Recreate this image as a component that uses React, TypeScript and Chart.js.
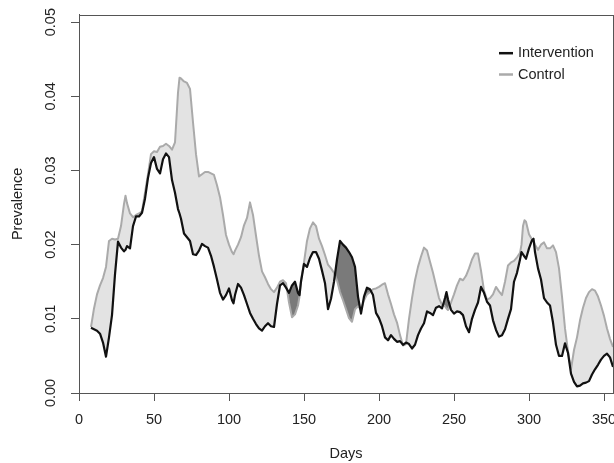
import React, { useEffect, useRef } from "react";
import { Chart, registerables } from "chart.js";

Chart.register(...registerables);

const days = [
  8, 10, 12, 14, 16, 18, 20, 22, 24, 26,
  28, 30, 31, 32, 34, 36, 38, 40, 42, 44,
  46, 48, 50, 52, 54, 56, 58, 60, 62, 64,
  66, 67, 68, 70, 72, 74, 76, 78, 80, 82,
  84, 86, 88, 90, 92, 94, 96, 98, 100, 102,
  103, 104, 106, 108, 110, 112, 114, 116, 118, 120,
  122, 124, 126, 128, 130, 132, 134, 136, 138, 140,
  142, 144, 146, 147, 148, 150, 152, 154, 156, 158,
  160, 162, 164, 166, 168, 170, 172, 174, 176, 178,
  180, 182, 184, 186, 188, 190, 192, 194, 196, 198,
  200, 202, 204, 206, 208, 210, 212, 214, 216, 218,
  220, 222, 224, 226, 228, 230, 232, 234, 236, 238,
  240, 242, 244, 245, 246, 248, 250, 252, 254, 256,
  258, 260, 262, 264, 266, 268, 270, 272, 274, 276,
  278, 280, 282, 284, 286, 288, 290, 292, 294, 295,
  296, 297, 298, 300, 302, 303, 304, 306, 308, 310,
  312, 314, 316, 318, 320, 322, 324, 326, 328, 330,
  332, 334, 336, 338, 340, 342, 344, 346, 348, 350,
  352, 354, 356, 358,
];

const intervention = [
  0.0088, 0.0086, 0.0084, 0.0080, 0.0068, 0.0049, 0.0075, 0.0105, 0.0160, 0.0204,
  0.0196, 0.0191, 0.0193, 0.0198, 0.0195, 0.0225, 0.0238, 0.0238, 0.0243, 0.0262,
  0.0290, 0.0310, 0.0318, 0.0302, 0.0296, 0.0315, 0.0323, 0.0318, 0.0287, 0.0270,
  0.0248, 0.0242, 0.0235, 0.0215, 0.0210, 0.0205, 0.0187, 0.0186, 0.0192, 0.0201,
  0.0198, 0.0196, 0.0185, 0.0170, 0.0153, 0.0135, 0.0126, 0.0132, 0.0141, 0.0125,
  0.0121, 0.0132, 0.0147, 0.0142, 0.0132, 0.0120, 0.0108, 0.0100, 0.0093, 0.0087,
  0.0084, 0.0090, 0.0094, 0.0090, 0.0089, 0.0120, 0.0145, 0.0148, 0.0142, 0.0135,
  0.0145, 0.0150, 0.0135, 0.0132, 0.0150, 0.0174, 0.0170, 0.0182, 0.0190, 0.0190,
  0.0181, 0.0165, 0.0148, 0.0113, 0.0127, 0.0150, 0.0180, 0.0205, 0.0200, 0.0196,
  0.0190, 0.0183, 0.0170, 0.0130, 0.0107, 0.0130, 0.0142, 0.0140, 0.0132, 0.0108,
  0.0101, 0.0090, 0.0075, 0.0071, 0.0078, 0.0073, 0.0069, 0.0070, 0.0065, 0.0068,
  0.0066, 0.0060, 0.0065, 0.0078, 0.0087, 0.0094, 0.0110, 0.0108, 0.0105, 0.0115,
  0.0117, 0.0114, 0.0128, 0.0136, 0.0126, 0.0112, 0.0107, 0.0110, 0.0109, 0.0105,
  0.0090, 0.0082, 0.0100, 0.0112, 0.0122, 0.0143, 0.0135, 0.0123, 0.0118, 0.0098,
  0.0085, 0.0076, 0.0078, 0.0086, 0.0100, 0.0113, 0.0150, 0.0162, 0.0180, 0.0190,
  0.0187, 0.0184, 0.0181, 0.0195, 0.0206, 0.0208, 0.0190, 0.0168, 0.0153, 0.0128,
  0.0122, 0.0118, 0.0095, 0.0065, 0.0050, 0.0050, 0.0067, 0.0054, 0.0026, 0.0015,
  0.0009, 0.0010, 0.0013, 0.0014, 0.0016, 0.0025, 0.0032, 0.0038, 0.0045, 0.0050,
  0.0053, 0.0048, 0.0035, 0.0030,
];

const control = [
  0.0089, 0.0114, 0.0133, 0.0145, 0.0155, 0.0170, 0.0205, 0.0208, 0.0207, 0.0208,
  0.0225, 0.0255, 0.0266, 0.0256, 0.0242, 0.0237, 0.0240, 0.0242, 0.0245, 0.0270,
  0.0295, 0.0322, 0.0326, 0.0325, 0.0332, 0.0333, 0.0336, 0.0333, 0.0328, 0.0338,
  0.0405, 0.0425, 0.0424, 0.0420, 0.0418, 0.0410, 0.0365, 0.0322, 0.0292, 0.0295,
  0.0298, 0.0298, 0.0296, 0.0294, 0.0280, 0.0264, 0.0240, 0.0213, 0.0200, 0.0190,
  0.0187, 0.0192, 0.0200, 0.0210, 0.0226, 0.0236, 0.0257, 0.0240, 0.0212, 0.0185,
  0.0164, 0.0156, 0.0147, 0.0140, 0.0136, 0.0142, 0.0150, 0.0152, 0.0148, 0.0122,
  0.0102, 0.0106, 0.0118, 0.0130, 0.0152, 0.0176, 0.0205, 0.0222, 0.0230, 0.0225,
  0.0208, 0.0198, 0.0186, 0.0173, 0.0168, 0.0162, 0.0152, 0.0136, 0.0125, 0.0113,
  0.0101, 0.0096, 0.0113, 0.0117, 0.0112, 0.0125, 0.0133, 0.0136, 0.0140, 0.0141,
  0.0143, 0.0146, 0.0148, 0.0133, 0.0120, 0.0106, 0.0095, 0.0078, 0.0064, 0.0066,
  0.0100, 0.0128, 0.0152, 0.0170, 0.0184, 0.0196, 0.0192, 0.0177, 0.0162, 0.0145,
  0.0128, 0.0119, 0.0117, 0.0114, 0.0112, 0.0122, 0.0133, 0.0145, 0.0154, 0.0152,
  0.0158, 0.0168, 0.0180, 0.0188, 0.0188, 0.0165, 0.0138, 0.0126, 0.0128, 0.0133,
  0.0143, 0.0137, 0.0132, 0.0150, 0.0172, 0.0176, 0.0178, 0.0183, 0.0189, 0.0200,
  0.0225, 0.0233, 0.0231, 0.0214, 0.0207, 0.0205, 0.0200, 0.0193, 0.0200, 0.0203,
  0.0195, 0.0195, 0.0199, 0.0190, 0.0168, 0.0130, 0.0087, 0.0056, 0.0032, 0.0058,
  0.0075, 0.0098, 0.0115, 0.0128, 0.0136, 0.0140, 0.0138, 0.0130, 0.0118, 0.0104,
  0.0087, 0.0073, 0.0062, 0.0055,
];

const seriesLabels = ["Intervention", "Control"];
const xTicks = [0, 50, 100, 150, 200, 250, 300, 350];
const yTicks = [0, 0.01, 0.02, 0.03, 0.04, 0.05];

const FONT_FAMILY = "'Liberation Sans', Arial, Helvetica, sans-serif";
const TEXT = "#222222";
const AXIS = "#555555";

export default function App() {
  const ref = useRef<HTMLCanvasElement>(null);

  useEffect(() => {
    const canvas = ref.current;
    if (!canvas) return;
    const font = { family: FONT_FAMILY, size: 14.5 };

    const framePlugin = {
      id: "frame",
      afterDraw(chart: any) {
        const { ctx, chartArea: a } = chart;
        ctx.save();
        ctx.strokeStyle = AXIS;
        ctx.lineWidth = 1;
        ctx.strokeRect(Math.round(a.left) + 0.5, Math.round(a.top) + 0.5, Math.round(a.right - a.left), Math.round(a.bottom - a.top));
        ctx.restore();
      },
    };

    const legendPlugin = {
      id: "insetLegend",
      afterDraw(chart: any) {
        const { ctx, chartArea: a } = chart;
        const x0 = a.right - 114;
        let y = a.top + 38.5;
        ctx.save();
        chart.data.datasets.forEach((ds: any) => {
          ctx.strokeStyle = ds.borderColor;
          ctx.lineWidth = 2.5;
          ctx.beginPath();
          ctx.moveTo(x0, y);
          ctx.lineTo(x0 + 14, y);
          ctx.stroke();
          ctx.fillStyle = TEXT;
          ctx.font = `14.5px ${FONT_FAMILY}`;
          ctx.textBaseline = "middle";
          ctx.textAlign = "left";
          ctx.fillText(ds.label, x0 + 19, y);
          y += 21.3;
        });
        ctx.restore();
      },
    };

    const chart = new Chart(canvas, {
      type: "line",
      data: {
        datasets: [
          {
            label: seriesLabels[0],
            data: days.map((d, i) => ({ x: d, y: intervention[i] })),
            borderColor: "#111111",
            borderWidth: 2.2,
            pointRadius: 0,
            tension: 0,
            fill: false,
            borderJoinStyle: "round",
          },
          {
            label: seriesLabels[1],
            data: days.map((d, i) => ({ x: d, y: control[i] })),
            borderColor: "#aaaaaa",
            borderWidth: 2,
            pointRadius: 0,
            tension: 0,
            borderJoinStyle: "round",
            fill: { target: 0, above: "#e3e3e3", below: "#7a7a7a" },
          },
        ],
      },
      options: {
        animation: false,
        responsive: false,
        maintainAspectRatio: false,
        layout: { padding: { left: 0, top: 14, right: 27, bottom: 0 } },
        plugins: {
          legend: { display: false },
          tooltip: { enabled: false },
          filler: { drawTime: "beforeDatasetsDraw" },
        },
        scales: {
          x: {
            type: "linear",
            min: 0,
            max: 356,
            afterBuildTicks: (s: any) => {
              s.ticks = xTicks.map((v) => ({ value: v }));
            },
            afterFit: (s: any) => {
              s.height = 70;
            },
            grid: { drawOnChartArea: false, color: AXIS, tickLength: 8 },
            border: { display: true, color: AXIS, width: 1 },
            ticks: { font, color: TEXT, padding: 10, maxRotation: 0, autoSkip: false },
            title: { display: true, text: "Days", font, color: TEXT, padding: { top: 0, bottom: 0 } },
          },
          y: {
            type: "linear",
            min: 0,
            max: 0.051,
            afterBuildTicks: (s: any) => {
              s.ticks = yTicks.map((v) => ({ value: v }));
            },
            afterFit: (s: any) => {
              s.width = 79;
            },
            grid: { drawOnChartArea: false, color: AXIS, tickLength: 8 },
            border: { display: true, color: AXIS, width: 1 },
            ticks: {
              font,
              color: TEXT,
              padding: 6,
              minRotation: 90,
              maxRotation: 90,
              crossAlign: "center",
              autoSkip: false,
              callback: (v: any) => Number(v).toFixed(2),
            },
            title: { display: true, text: "Prevalence", font, color: TEXT, padding: { top: 9.6, bottom: 0 } },
          },
        },
      },
      plugins: [framePlugin, legendPlugin],
    } as any);

    return () => chart.destroy();
  }, []);

  return (
    <div
      style={{
        position: "fixed",
        left: 0,
        top: 0,
        width: 614,
        height: 463,
        overflow: "hidden",
        background: "#ffffff",
      }}
    >
      <canvas ref={ref} width={640} height={463} style={{ display: "block", width: 640, height: 463 }} />
    </div>
  );
}
